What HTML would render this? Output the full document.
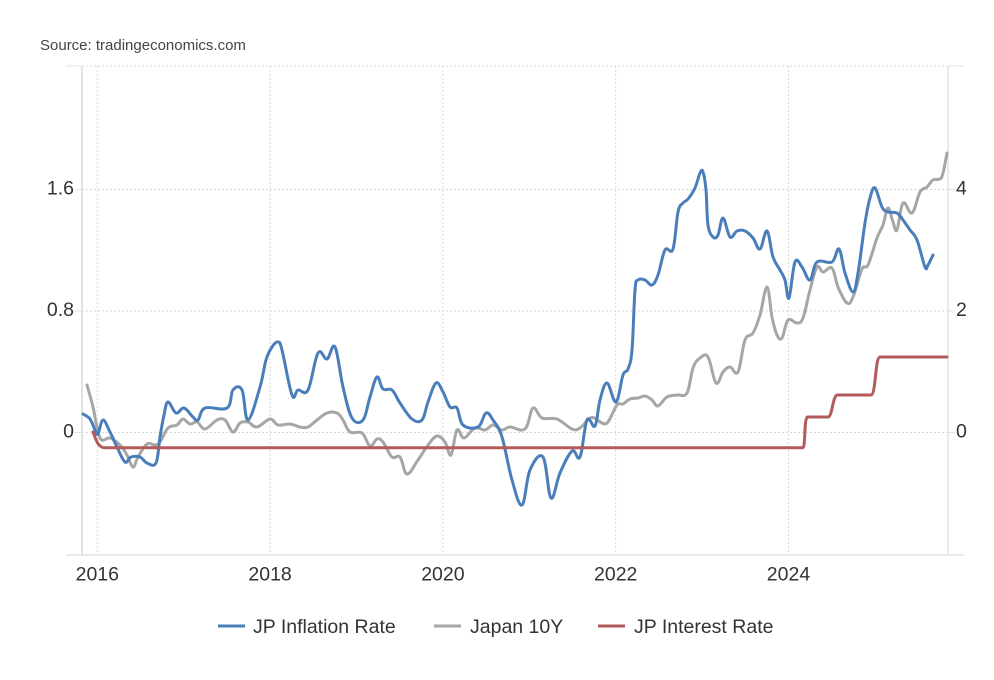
<!DOCTYPE html>
<html>
<head>
<meta charset="utf-8">
<style>
  html, body { margin: 0; padding: 0; background: #ffffff; }
  svg { display: block; font-family: "Liberation Sans", Arial, sans-serif; }
</style>
</head>
<body>
<svg id="chart" width="994" height="680" viewBox="0 0 994 680" xmlns="http://www.w3.org/2000/svg">
  <rect x="0" y="0" width="994" height="680" fill="#ffffff"/>

  <text x="40" y="50" font-size="15" fill="#444444">Source: tradingeconomics.com</text>

  <!-- horizontal grid -->
  <g stroke="#d9d9d9" stroke-width="1" stroke-dasharray="2,2" fill="none">
    <line x1="82" y1="66" x2="948" y2="66"/>
    <line x1="82" y1="189.5" x2="948" y2="189.5"/>
    <line x1="82" y1="311" x2="948" y2="311"/>
    <line x1="82" y1="432.5" x2="948" y2="432.5"/>
  </g>
  <!-- vertical grid -->
  <g stroke="#d9d9d9" stroke-width="1" stroke-dasharray="2,2" fill="none">
    <line x1="97.3" y1="66" x2="97.3" y2="554"/>
    <line x1="270.1" y1="66" x2="270.1" y2="554"/>
    <line x1="442.9" y1="66" x2="442.9" y2="554"/>
    <line x1="615.7" y1="66" x2="615.7" y2="554"/>
    <line x1="788.5" y1="66" x2="788.5" y2="554"/>
  </g>
  <!-- axis lines and ticks -->
  <g stroke="#e3e3e3" fill="none">
    <line x1="82" y1="66" x2="82" y2="555" stroke-width="2"/>
    <line x1="948" y1="66" x2="948" y2="555" stroke-width="1.5"/>
    <line x1="66" y1="555" x2="964" y2="555" stroke-width="1.5"/>
    <line x1="66" y1="66" x2="82" y2="66" stroke-width="1"/>
    <line x1="948" y1="66" x2="964" y2="66" stroke-width="1"/>
    <line x1="74" y1="189.5" x2="82" y2="189.5" stroke-width="1"/>
    <line x1="74" y1="311" x2="82" y2="311" stroke-width="1"/>
    <line x1="74" y1="432.5" x2="82" y2="432.5" stroke-width="1"/>
    <line x1="948" y1="189.5" x2="955" y2="189.5" stroke-width="1"/>
    <line x1="948" y1="311" x2="955" y2="311" stroke-width="1"/>
    <line x1="948" y1="432.5" x2="955" y2="432.5" stroke-width="1"/>
  </g>

  <!-- left labels -->
  <g font-size="19.5" fill="#333333" text-anchor="end">
    <text x="74" y="194.5">1.6</text>
    <text x="74" y="316">0.8</text>
    <text x="74" y="437.5">0</text>
  </g>
  <!-- right labels -->
  <g font-size="19.5" fill="#333333" text-anchor="start">
    <text x="956" y="194.5">4</text>
    <text x="956" y="316">2</text>
    <text x="956" y="437.5">0</text>
  </g>
  <!-- x labels -->
  <g font-size="19.5" fill="#333333" text-anchor="middle">
    <text x="97.3" y="580.5">2016</text>
    <text x="270.1" y="580.5">2018</text>
    <text x="442.9" y="580.5">2020</text>
    <text x="615.7" y="580.5">2022</text>
    <text x="788.5" y="580.5">2024</text>
  </g>

  <!-- Japan 10Y (gray) -->
  <polyline class="smooth" fill="none" stroke="#a6a6a6" stroke-width="3" stroke-linejoin="round" stroke-linecap="round"
    points="87,385 93,407 100,438 110,438 120,445 127,455 133,467 138,457 147,444 155,445 160,442 168,428 177,425 183,419 190,424 197,422 205,429 217,420 225,420 233,432 240,423 248,422 257,427 270,419 278,425 290,424 300,427 308,427 317,420 327,413 337,413 343,420 350,432 362,433 370,446 377,439 383,442 392,457 400,457 407,474 418,460 428,445 437,436 445,442 451,455 457,430 464,438 475,428 485,430 493,425 502,430 510,427 525,429 533,408 542,418 557,419 572,429 580,428 590,418 596,419 602,423 608,422 617,405 623,404 630,399 638,398 645,396 652,400 658,406 667,397 677,395 687,393 693,368 700,358 708,357 716,383 723,372 730,367 738,372 745,340 753,333 760,315 767,287 772,317 777,335 782,338 788,320 797,323 803,318 810,290 817,267 823,272 832,268 838,287 847,303 853,297 862,269 868,265 877,238 883,225 888,208 893,222 897,230 903,203 912,213 920,192 927,187 933,180 940,179 943,173 947,153"/>

  <!-- JP Inflation Rate (blue) -->
  <polyline class="smooth" fill="none" stroke="#4a7ebb" stroke-width="3" stroke-linejoin="round" stroke-linecap="round"
    points="83,414 90,419 95,430 98,434 103,420 110,432 117,447 125,462 131,457 140,457 147,463 156,463 160,437 164,415 168,402 176,413 184,408 193,417 198,420 205,408 227,408 233,390 242,390 248,420 260,387 266,360 272,347 278,342 282,350 292,395 298,390 308,390 318,353 327,359 335,347 343,387 352,418 363,420 370,397 377,377 383,389 392,390 400,403 412,419 422,420 428,402 436,383 443,392 450,407 457,408 463,425 478,427 486,413 493,420 502,437 512,480 522,505 530,470 543,457 551,498 560,473 572,451 580,457 587,420 595,426 600,400 607,383 616,402 623,375 628,369 632,350 635,290 638,280 645,280 652,285 658,275 665,250 673,249 678,212 683,203 688,199 695,188 700,173 703,172 706,190 708,225 713,237 718,235 723,218 730,237 737,231 745,231 753,238 760,249 767,231 773,257 780,270 785,280 789,298 795,262 802,267 810,280 817,262 832,262 839,249 845,273 853,292 858,273 865,223 870,198 875,188 882,207 888,212 897,213 903,220 910,230 917,240 925,267 928,265 933,255"/>

  <!-- JP Interest Rate (red) -->
  <path fill="none" stroke="#b35a5a" stroke-width="3" stroke-linejoin="round" stroke-linecap="round"
    d="M93,432 C96,440 98,447 104,447.7 L803,447.7 C805.5,447.7 804,417 807.5,417 L828,417 C832.5,417 832.5,395 837.5,395 L871,395 C876,395 875,357 880,357 L947,357"/>

  <!-- legend -->
  <g stroke-width="3" stroke-linecap="butt">
    <line x1="218" y1="626" x2="245" y2="626" stroke="#4a7ebb"/>
    <line x1="434" y1="626" x2="461" y2="626" stroke="#a6a6a6"/>
    <line x1="598" y1="626" x2="625" y2="626" stroke="#b35a5a"/>
  </g>
  <g font-size="19.5" fill="#333333">
    <text x="253" y="633">JP Inflation Rate</text>
    <text x="470" y="633">Japan 10Y</text>
    <text x="634" y="633">JP Interest Rate</text>
  </g>
</svg>
<script>
(function(){
  try {
    var NS = "http://www.w3.org/2000/svg";
    var lines = document.querySelectorAll("polyline.smooth");
    for (var k = 0; k < lines.length; k++) {
      var pl = lines[k];
      var raw = pl.getAttribute("points").trim().split(/\s+/);
      var p = [];
      for (var i = 0; i < raw.length; i++) {
        var xy = raw[i].split(",");
        p.push([parseFloat(xy[0]), parseFloat(xy[1])]);
      }
      if (p.length < 3) continue;
      var d = "M" + p[0][0] + "," + p[0][1];
      var t = 0.18;
      for (var i = 0; i < p.length - 1; i++) {
        var p0 = p[i > 0 ? i - 1 : 0], p1 = p[i], p2 = p[i + 1], p3 = p[i + 2 < p.length ? i + 2 : p.length - 1];
        var c1x = p1[0] + (p2[0] - p0[0]) * t, c1y = p1[1] + (p2[1] - p0[1]) * t;
        var c2x = p2[0] - (p3[0] - p1[0]) * t, c2y = p2[1] - (p3[1] - p1[1]) * t;
        d += " C" + c1x.toFixed(2) + "," + c1y.toFixed(2) + " " + c2x.toFixed(2) + "," + c2y.toFixed(2) + " " + p2[0] + "," + p2[1];
      }
      var path = document.createElementNS(NS, "path");
      path.setAttribute("d", d);
      path.setAttribute("fill", "none");
      path.setAttribute("stroke", pl.getAttribute("stroke"));
      path.setAttribute("stroke-width", pl.getAttribute("stroke-width"));
      path.setAttribute("stroke-linejoin", "round");
      path.setAttribute("stroke-linecap", "round");
      pl.parentNode.replaceChild(path, pl);
    }
  } catch (e) {}
})();
</script>
</body>
</html>
